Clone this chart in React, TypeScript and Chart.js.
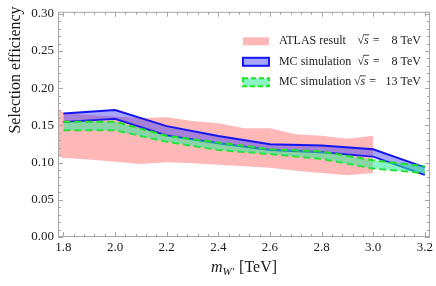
import { useEffect, useRef } from 'react';
import { Chart, registerables } from 'chart.js';

Chart.register(...registerables);

// ---- data ----
const massPoints = [1.8, 2.0, 2.2, 2.4, 2.6, 2.8, 3.0, 3.2];
const mc8Upper = [0.166, 0.1705, 0.149, 0.1357, 0.1247, 0.1228, 0.118, 0.0935];
const mc8Lower = [0.1545, 0.1588, 0.1365, 0.126, 0.1168, 0.1138, 0.108, 0.0835];
const mc13Upper = [0.155, 0.155, 0.136, 0.127, 0.118, 0.115, 0.103, 0.095];
const mc13Lower = [0.1435, 0.1435, 0.128, 0.117, 0.1115, 0.105, 0.092, 0.086];

const atlasMass = [1.75, 1.8, 1.9, 2.0, 2.1, 2.2, 2.3, 2.4, 2.5, 2.6, 2.7, 2.8, 2.9, 3.0];
const atlasUpper = [0.18, 0.167, 0.164, 0.162, 0.16, 0.161, 0.156, 0.153, 0.146, 0.146, 0.138, 0.136, 0.132, 0.136];
const atlasLower = [0.112, 0.106, 0.104, 0.101, 0.098, 0.1005, 0.099, 0.097, 0.095, 0.093, 0.089, 0.086, 0.083, 0.086];

const xTicks = [1.8, 2.0, 2.2, 2.4, 2.6, 2.8, 3.0, 3.2];
const yTicks = [0, 0.05, 0.1, 0.15, 0.2, 0.25, 0.3];

const legendLabels = ['ATLAS result', 'MC simulation', 'MC simulation'];
const legendEnergies = ['8', '8', '13'];
const yTitle = 'Selection efficiency';
const xTitleMain = 'm';
const xTitleSub = 'W′';
const xTitleUnit = ' [TeV]';

// ---- styles ----
const SERIF = '"Liberation Serif", "Times New Roman", serif';
const PINK = 'rgb(255,184,184)';
const BLUE = '#1414f0';
const BLUE_FILL = 'rgba(60,60,255,0.45)';
const GREEN = 'rgb(30,228,30)';
const GREEN_FILL = 'rgba(40,235,150,0.55)';
const FRAME = '#a6a6a6';
const TEXT = '#1a1a1a';

const pts = (xs: number[], ys: number[]) => xs.map((x, i) => ({ x, y: ys[i] }));

const decorPlugin = {
  id: 'decor',
  afterDraw(chart: any) {
    const { ctx, chartArea: a, scales } = chart;
    const xs = scales.x;
    const ys = scales.y;
    ctx.save();
    // frame
    ctx.strokeStyle = FRAME;
    ctx.lineWidth = 1;
    ctx.strokeRect(a.left + 0.5, a.top + 0.5, a.right - a.left - 1, a.bottom - a.top - 1);
    const MAJ = 5;
    const MIN = 3;
    ctx.beginPath();
    const xTick = (v: number, len: number) => {
      if (v < xs.min || v > xs.max) return;
      const p = Math.round(xs.getPixelForValue(v)) + 0.5;
      ctx.moveTo(p, a.bottom);
      ctx.lineTo(p, a.bottom - len);
      ctx.moveTo(p, a.top);
      ctx.lineTo(p, a.top + len);
    };
    const yTick = (v: number, len: number) => {
      if (v < ys.min || v > ys.max) return;
      const p = Math.round(ys.getPixelForValue(v)) + 0.5;
      ctx.moveTo(a.left, p);
      ctx.lineTo(a.left + len, p);
      ctx.moveTo(a.right, p);
      ctx.lineTo(a.right - len, p);
    };
    xTicks.forEach((v, i) => {
      xTick(v, MAJ);
      if (i < xTicks.length - 1) {
        const step = (xTicks[i + 1] - v) / 5;
        for (let k = 1; k < 5; k++) xTick(v + k * step, MIN);
      }
    });
    yTicks.forEach((v, i) => {
      yTick(v, MAJ);
      if (i < yTicks.length - 1) {
        const step = (yTicks[i + 1] - v) / 5;
        for (let k = 1; k < 5; k++) yTick(v + k * step, MIN);
      }
    });
    ctx.stroke();

    // legend
    const lx = a.right - 187;
    const rowY = [a.top + 29.5, a.top + 50, a.top + 70.5];
    ctx.textBaseline = 'middle';
    legendLabels.forEach((lab, i) => {
      const cy = rowY[i];
      if (i === 0) {
        ctx.fillStyle = PINK;
        ctx.fillRect(lx, cy - 4, 26, 8);
      } else {
        ctx.fillStyle = '#fff';
        ctx.fillRect(lx, cy - 4, 26, 8);
        ctx.fillStyle = i === 1 ? BLUE_FILL : GREEN_FILL;
        ctx.fillRect(lx, cy - 4, 26, 8);
        ctx.strokeStyle = i === 1 ? BLUE : GREEN;
        ctx.lineWidth = 2;
        ctx.setLineDash(i === 1 ? [] : [5, 3]);
        ctx.strokeRect(lx, cy - 4, 26, 8);
        ctx.setLineDash([]);
      }
      ctx.fillStyle = TEXT;
      ctx.font = `12px ${SERIF}`;
      ctx.textAlign = 'left';
      ctx.fillText(lab, lx + 36, cy);
      // sqrt s = E TeV
      const sx = legendEnergies[i].length > 1 ? a.right - 76 : a.right - 72.5;
      ctx.fillText('√', sx, cy);
      const rw = ctx.measureText('√').width;
      ctx.font = `italic 12px ${SERIF}`;
      ctx.fillText('s', sx + rw, cy);
      const sw = ctx.measureText('s').width;
      ctx.strokeStyle = TEXT;
      ctx.lineWidth = 0.8;
      ctx.beginPath();
      ctx.moveTo(sx + rw - 0.5, cy - 6.5);
      ctx.lineTo(sx + rw + sw + 0.5, cy - 6.5);
      ctx.stroke();
      ctx.font = `12px ${SERIF}`;
      ctx.fillText(' =', sx + rw + sw + 1, cy);
      ctx.textAlign = 'right';
      ctx.fillText(`${legendEnergies[i]} TeV`, a.right - 9, cy);
    });

    // y title
    ctx.save();
    ctx.translate(16, 70);
    ctx.rotate(-Math.PI / 2);
    ctx.font = `16px ${SERIF}`;
    ctx.textAlign = 'center';
    ctx.textBaseline = 'middle';
    ctx.fillStyle = TEXT;
    ctx.fillText(yTitle, 0, 0);
    ctx.restore();

    // x title
    ctx.textBaseline = 'alphabetic';
    ctx.textAlign = 'left';
    ctx.fillStyle = TEXT;
    ctx.font = `italic 16px ${SERIF}`;
    const mW = ctx.measureText(xTitleMain).width;
    ctx.font = `italic 11px ${SERIF}`;
    const subW = ctx.measureText(xTitleSub).width;
    ctx.font = `16px ${SERIF}`;
    const uW = ctx.measureText(xTitleUnit).width;
    const total = mW + subW + uW + 1;
    let x0 = (a.left + a.right) / 2 - total / 2;
    const base = a.bottom + 35;
    ctx.font = `italic 16px ${SERIF}`;
    ctx.fillText(xTitleMain, x0, base);
    x0 += mW;
    ctx.font = `italic 11px ${SERIF}`;
    ctx.fillText(xTitleSub, x0, base + 3);
    x0 += subW + 1;
    ctx.font = `16px ${SERIF}`;
    ctx.fillText(xTitleUnit, x0, base);
    ctx.restore();
  },
};

export default function App() {
  const ref = useRef<HTMLCanvasElement | null>(null);
  useEffect(() => {
    document.body.style.margin = '0';
    const canvas = ref.current;
    if (!canvas) return;
    const tickFont = { family: SERIF, size: 13 };
    const chart = new Chart(canvas, {
      type: 'line',
      data: {
        datasets: [
          { data: pts(atlasMass, atlasLower), borderWidth: 0, borderColor: 'transparent', pointRadius: 0, fill: false, order: 6 },
          { data: pts(atlasMass, atlasUpper), borderWidth: 0, borderColor: 'transparent', backgroundColor: PINK, pointRadius: 0, fill: '-1', order: 5 },
          { data: pts(massPoints, mc8Lower), borderWidth: 2, borderColor: BLUE, pointRadius: 0, fill: false, order: 4 },
          { data: pts(massPoints, mc8Upper), borderWidth: 2, borderColor: BLUE, backgroundColor: BLUE_FILL, pointRadius: 0, fill: '-1', order: 3 },
          { data: pts(massPoints, mc13Lower), borderWidth: 2, borderColor: GREEN, borderDash: [7, 4], pointRadius: 0, fill: false, order: 2 },
          { data: pts(massPoints, mc13Upper), borderWidth: 2, borderColor: GREEN, borderDash: [7, 4], backgroundColor: GREEN_FILL, pointRadius: 0, fill: '-1', order: 1 },
        ],
      } as any,
      options: {
        animation: false,
        responsive: false,
        events: [],
        layout: { padding: { top: 6, right: 6, left: 0, bottom: 0 } },
        plugins: { legend: { display: false }, tooltip: { enabled: false } },
        scales: {
          x: {
            type: 'linear',
            min: 1.779,
            max: 3.22,
            afterBuildTicks: (s: any) => { s.ticks = xTicks.map((v) => ({ value: v })); },
            afterFit: (s: any) => { s.height = 49; },
            ticks: { callback: (v: any) => Number(v).toFixed(1), font: tickFont, color: TEXT, padding: 3, maxRotation: 0, autoSkip: false },
            grid: { display: false, drawTicks: false },
            border: { display: false },
          },
          y: {
            type: 'linear',
            min: 0,
            max: 0.3026,
            afterBuildTicks: (s: any) => { s.ticks = yTicks.map((v) => ({ value: v })); },
            afterFit: (s: any) => { s.width = 58; },
            ticks: { callback: (v: any) => Number(v).toFixed(2), font: tickFont, color: TEXT, padding: 4, autoSkip: false },
            grid: { display: false, drawTicks: false },
            border: { display: false },
          },
        },
      } as any,
      plugins: [decorPlugin],
    });
    return () => chart.destroy();
  }, []);
  return <canvas ref={ref} width={436} height={286} style={{ display: 'block' }} />;
}
